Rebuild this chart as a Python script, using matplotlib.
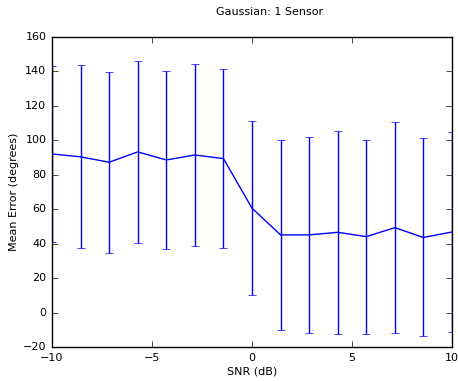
import numpy as np
import matplotlib
matplotlib.use("Agg")
import matplotlib.pyplot as plt

# SNR sweep (dB) and mean error with std per point
snr_db = [-10.0, -8.571, -7.143, -5.714, -4.286, -2.857, -1.429, 0.0,
          1.429, 2.857, 4.286, 5.714, 7.143, 8.571, 10.0]
mean_err = [92.1, 90.4, 87.3, 93.3, 88.6, 91.5, 89.4, 60.6,
            45.1, 45.1, 46.6, 44.1, 49.3, 43.6, 46.8]
std_err = [51.3, 53.1, 52.5, 52.8, 51.5, 52.9, 52.2, 50.6,
           55.0, 57.0, 59.0, 56.3, 61.3, 57.5, 57.8]

plt.style.use("classic")
plt.rcParams.update({
    "figure.facecolor": "white",
    "savefig.facecolor": "white",
    "font.family": "DejaVu Sans",
    "font.size": 8,
    "axes.labelsize": 8,
    "xtick.labelsize": 8,
    "ytick.labelsize": 8,
    "axes.labelpad": 3,
})

fig = plt.figure(figsize=(4.58, 3.81), dpi=100)
ax = fig.add_axes([52 / 458, 1 - 347 / 381, 400 / 458, 310 / 381])

ax.errorbar(snr_db, mean_err, yerr=std_err, color="b", ecolor="b",
            linewidth=1.0, elinewidth=1.0, capsize=3)

ax.set_xlim(-10, 10)
ax.set_ylim(-20, 160)
ax.set_xticks([-10, -5, 0, 5, 10])
ax.set_yticks(np.arange(-20, 161, 20))
ax.set_xlabel("SNR (dB)")
ax.set_ylabel("Mean Error (degrees)")

fig.text(270 / 458, 1 - 12 / 381, "Gaussian: 1 Sensor", ha="center", va="center",
         fontsize=8)

fig.savefig("out.png", dpi=100)
